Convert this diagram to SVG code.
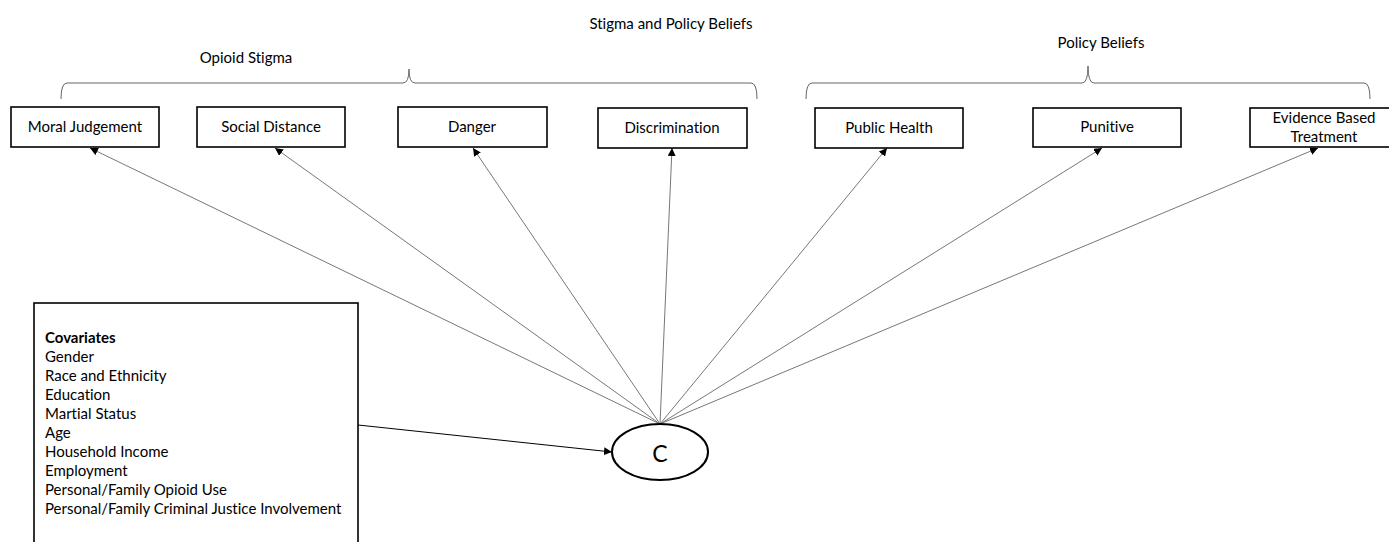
<svg xmlns="http://www.w3.org/2000/svg" width="1389" height="542" viewBox="0 0 1389 542">
<defs>
<style>
.box{fill:#fff;stroke:#000;stroke-width:1.6}
.t{font-family:Lato,"Open Sans",sans-serif;font-size:15px;fill:#000;font-variant-ligatures:none}
.c{text-anchor:middle}
.br{fill:none;stroke:#666;stroke-width:1}
.ln{stroke:#777;stroke-width:1;fill:none}
</style>
<marker id="ah" viewBox="0 0 10 10" refX="10" refY="5" markerWidth="8" markerHeight="8" markerUnits="userSpaceOnUse" orient="auto">
<path d="M0,0 L10,5 L0,10 z" fill="#000"/>
</marker>
</defs>
<rect width="1389" height="542" fill="#fff"/>
<g id="labels">
<text class="t c" x="671" y="29">Stigma and Policy Beliefs</text>
<text class="t c" x="246" y="63">Opioid Stigma</text>
<text class="t c" x="1101" y="48">Policy Beliefs</text>
</g>
<g id="brackets">
<path class="br" d="M61,99 Q61,83 67,83 H403 Q409,83 409,69 Q409,83 415,83 H751 Q757,83 757,99"/>
<path class="br" d="M806,99 Q806,83 812,83 H1082 Q1088,83 1088,66 Q1088,83 1094,83 H1364 Q1370,83 1370,99"/>
</g>
<g id="connectors">
<line class="ln" x1="660" y1="424" x2="90" y2="148" marker-end="url(#ah)"/>
<line class="ln" x1="660" y1="424" x2="275" y2="148" marker-end="url(#ah)"/>
<line class="ln" x1="660" y1="424" x2="473" y2="148" marker-end="url(#ah)"/>
<line class="ln" x1="660" y1="424" x2="672" y2="148" marker-end="url(#ah)"/>
<line class="ln" x1="660" y1="424" x2="887" y2="148" marker-end="url(#ah)"/>
<line class="ln" x1="660" y1="424" x2="1102" y2="148" marker-end="url(#ah)"/>
<line class="ln" x1="660" y1="424" x2="1318" y2="148" marker-end="url(#ah)"/>
<line x1="358" y1="425" x2="612" y2="452" stroke="#000" stroke-width="1" marker-end="url(#ah)"/>
</g>
<g id="moral"><rect class="box" x="11" y="107" width="148" height="40"/><text class="t c" x="85" y="132">Moral Judgement</text></g>
<g id="social"><rect class="box" x="197" y="107" width="148" height="40"/><text class="t c" x="271" y="132">Social Distance</text></g>
<g id="danger"><rect class="box" x="398" y="107" width="149" height="40"/><text class="t c" x="472" y="132">Danger</text></g>
<g id="discrimination"><rect class="box" x="598" y="108" width="149" height="40"/><text class="t c" x="672" y="133">Discrimination</text></g>
<g id="publichealth"><rect class="box" x="815" y="108" width="148" height="40"/><text class="t c" x="889" y="133">Public Health</text></g>
<g id="punitive"><rect class="box" x="1033" y="108" width="148" height="39"/><text class="t c" x="1107" y="132">Punitive</text></g>
<g id="evidence"><rect class="box" x="1250" y="108" width="145" height="39"/><text class="t c" x="1324" y="123">Evidence Based</text><text class="t c" x="1324" y="142">Treatment</text></g>
<g id="covariates">
<rect class="box" x="34" y="303" width="324" height="260"/>
<text class="t" x="45" y="343" font-weight="bold">Covariates</text>
<text class="t" x="45" y="362">Gender</text>
<text class="t" x="45" y="381">Race and Ethnicity</text>
<text class="t" x="45" y="400">Education</text>
<text class="t" x="45" y="419">Martial Status</text>
<text class="t" x="45" y="438">Age</text>
<text class="t" x="45" y="457">Household Income</text>
<text class="t" x="45" y="476">Employment</text>
<text class="t" x="45" y="495">Personal/Family Opioid Use</text>
<text class="t" x="45" y="514">Personal/Family Criminal Justice Involvement</text>
</g>
<g id="C"><ellipse cx="660" cy="452" rx="48" ry="28" fill="#fff" stroke="#000" stroke-width="2"/><text x="660" y="462" text-anchor="middle" font-family="Lato,'Open Sans',sans-serif" font-size="23">C</text></g>
</svg>
